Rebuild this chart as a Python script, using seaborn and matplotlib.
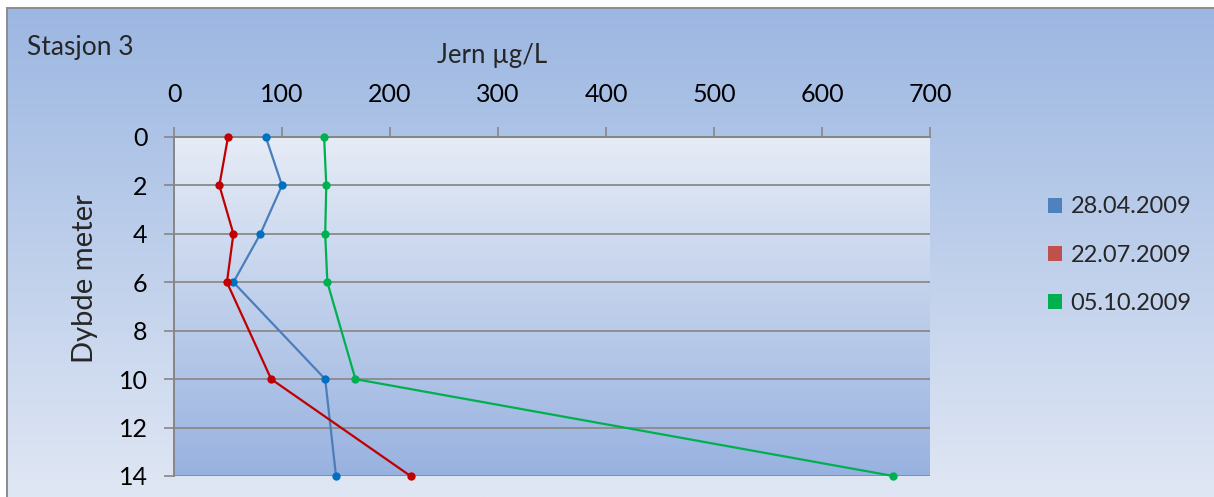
import numpy as np
import pandas as pd
import matplotlib
matplotlib.use("Agg")
import matplotlib.pyplot as plt
import seaborn as sns
from matplotlib.patches import Patch
from matplotlib.colors import LinearSegmentedColormap

# ---- data ----
depths = [0, 2, 4, 6, 10, 14]
dates = ["28.04.2009", "22.07.2009", "05.10.2009"]
jern_2804 = [85, 100, 80, 55, 140, 150]
jern_2207 = [50, 42, 55, 49, 90, 219]
jern_0510 = [139, 141, 140, 142, 168, 666]
x_ticks = [0, 100, 200, 300, 400, 500, 600, 700]
y_ticks = [0, 2, 4, 6, 8, 10, 12, 14]

df = pd.DataFrame({
    "Jern": jern_2804 + jern_2207 + jern_0510,
    "Dybde": depths * 3,
    "Dato": [dates[0]] * 6 + [dates[1]] * 6 + [dates[2]] * 6,
})

line_colors = {dates[0]: "#4a7ebb", dates[1]: "#c00000", dates[2]: "#00b050"}
marker_colors = ["#0070c0", "#c00000", "#00b050"]
legend_colors = ["#4f81bd", "#c0504d", "#00b050"]

sns.set_theme(style="white")
FONT = ["Lato", "DejaVu Sans"]
plt.rcParams["font.family"] = FONT
FS_TICK = 18

W, H = 1214, 497
fig = plt.figure(figsize=(W / 100, H / 100), dpi=100)
fig.patch.set_facecolor("white")

# chart-area gradient background
bgax = fig.add_axes([7 / W, 0, 1 - 7 / W, 1 - 8 / H], zorder=-10)
grad = np.linspace(0, 1, 256).reshape(-1, 1)
cmap_fig = LinearSegmentedColormap.from_list("f", ["#9cb7e2", "#e0e7f4"])
bgax.imshow(grad, aspect="auto", cmap=cmap_fig, extent=[0, 1, 0, 1], origin="upper")
bgax.set_xticks([]); bgax.set_yticks([])
for side, s in bgax.spines.items():
    if side in ("left", "top"):
        s.set_color("#8c8c8c"); s.set_linewidth(1.4)
    else:
        s.set_visible(False)

# plot area
L, R, T, B = 174, 930, 137, 476
ax = fig.add_axes([L / W, 1 - B / H, (R - L) / W, (B - T) / H])
cmap_ax = LinearSegmentedColormap.from_list("a", ["#e6ecf6", "#98b2e0"])
ax.imshow(grad, aspect="auto", cmap=cmap_ax, extent=[0, 1, 0, 1], origin="upper",
          transform=ax.transAxes, zorder=0)

sns.lineplot(data=df, x="Jern", y="Dybde", hue="Dato", palette=line_colors,
             sort=False, estimator=None, marker="o", markersize=6,
             markeredgewidth=0, linewidth=1.6, ax=ax, legend=False, zorder=5)
for ln, mc in zip(ax.lines, marker_colors):
    ln.set_markerfacecolor(mc)
    ln.set_markeredgecolor(mc)
    ln.set_clip_on(False)

ax.set_xlim(0, 700)
ax.set_ylim(14, 0)
ax.set_xticks(x_ticks)
ax.set_yticks(y_ticks)
ax.xaxis.tick_top()
ax.set_xlabel(""); ax.set_ylabel("")
ax.tick_params(axis="x", direction="out", length=7, width=1.2, color="#868686",
               pad=15, labelsize=FS_TICK, labelcolor="black", top=True, bottom=False)
ax.tick_params(axis="y", direction="out", length=7, width=1.2, color="#868686",
               pad=12, labelsize=FS_TICK, labelcolor="black", left=True)
ax.grid(axis="y", color="#8a8a8a", linewidth=1.3, zorder=1)
ax.grid(axis="x", visible=False)
ax.set_axisbelow(True)
ax.set_facecolor("none")
for side in ["right", "bottom"]:
    ax.spines[side].set_visible(False)
for side in ["left", "top"]:
    ax.spines[side].set_color("#868686")
    ax.spines[side].set_linewidth(1.4)

fig.text(27 / W, 1 - 47 / H, "Stasjon 3", fontsize=19, ha="left", va="center")
fig.text(492 / W, 1 - 56 / H, "Jern µg/L", fontsize=18.5, ha="center", va="center")
fig.text(85 / W, 1 - 279 / H, "Dybde meter", fontsize=21, ha="center", va="center",
         rotation=90)

handles = [Patch(facecolor=c, edgecolor="none", label=d) for c, d in zip(legend_colors, dates)]
fig.legend(handles=handles, loc="center left", bbox_to_anchor=(1048 / W, 1 - 255 / H),
           frameon=False, fontsize=17, handlelength=0.6, handleheight=0.6,
           handletextpad=0.35, labelspacing=1.15, borderpad=0, borderaxespad=0)

fig.savefig("out.png", dpi=100, facecolor=fig.get_facecolor())
